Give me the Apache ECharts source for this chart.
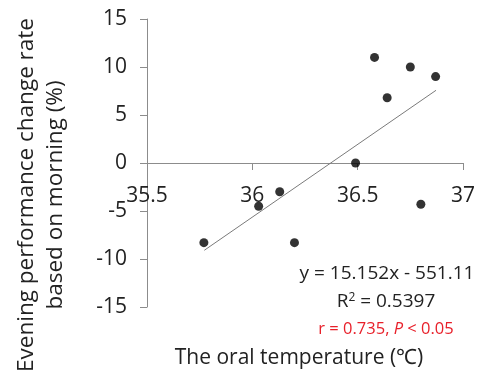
<!DOCTYPE html>
<html><head><meta charset="utf-8">
<script src="https://cdn.jsdelivr.net/npm/echarts@6/dist/echarts.min.js"></script>
<style>html,body{margin:0;padding:0;background:#fff}#c{width:480px;height:379px}</style>
</head><body><div id="c"></div>
<script>
const tempX = [36.58, 36.75, 36.87, 36.64, 36.49, 35.77, 36.03, 36.13, 36.20, 36.80];
const changeY = [11.0, 10.0, 9.0, 6.8, 0.0, -8.3, -4.5, -3.0, -8.3, -4.3];
const xTicks = [35.5, 36, 36.5, 37];
const yTicks = [-15, -10, -5, 0, 5, 10, 15];
const slope = 15.152, intercept = -551.11;
const trendRange = [35.772, 36.872];

const font = '"Open Sans", "Noto Sans", sans-serif';
const gridTop = 19, gridBottom = 72, H = 379;
const plotH = H - gridTop - gridBottom;
const yMin = yTicks[0], yMax = yTicks[yTicks.length - 1];
const zeroOffset = -plotH * (0 - yMin) / (yMax - yMin);
const chart = echarts.init(document.getElementById('c'));
chart.setOption({
  animation: false,
  grid: {left: 147, right: 17, top: gridTop, bottom: gridBottom},
  xAxis: {
    type: 'value', min: xTicks[0], max: xTicks[xTicks.length - 1], interval: 0.5,
    offset: zeroOffset,
    axisLine: {onZero: false, lineStyle: {color: '#8c8c8c', width: 1}},
    axisTick: {show: true, length: 7, inside: false, lineStyle: {color: '#8c8c8c'}},
    axisLabel: {fontSize: 21, color: '#222', fontFamily: font, margin: 23, showMinLabel: true, showMaxLabel: true},
    splitLine: {show: false}
  },
  yAxis: {
    type: 'value', min: yMin, max: yMax, interval: 5,
    axisLine: {show: true, onZero: false, lineStyle: {color: '#8c8c8c', width: 1}},
    axisTick: {show: true, length: 7, lineStyle: {color: '#8c8c8c'}},
    axisLabel: {fontSize: 21, color: '#222', fontFamily: font, margin: 20},
    splitLine: {show: false}
  },
  series: [
    {type: 'line', data: trendRange.map(x => [x, slope * x + intercept]), symbol: 'none',
     lineStyle: {color: '#7a7a7a', width: 1}, z: 1},
    {type: 'scatter', data: tempX.map((x, i) => [x, changeY[i]]), symbolSize: 9,
     itemStyle: {color: '#000'}, z: 2}
  ],
  graphic: [
    {type: 'text', x: 41, y: 195, rotation: Math.PI / 2,
     style: {text: 'Evening performance change rate\nbased on morning (%)', fontSize: 22.5, lineHeight: 29,
       fontFamily: font, fill: '#222', textAlign: 'center', textVerticalAlign: 'middle'}},
    {type: 'text', x: 299, y: 358,
     style: {text: 'The oral temperature (℃)', fontSize: 21, fontFamily: font, fill: '#222',
       textAlign: 'center', textVerticalAlign: 'middle'}},
    {type: 'text', x: 387, y: 274,
     style: {text: 'y = 15.152x - 551.11', fontSize: 19, fontFamily: font, fill: '#222',
       textAlign: 'center', textVerticalAlign: 'middle'}},
    {type: 'text', x: 386, y: 302,
     style: {text: '{a|R}{s|2}{a| = 0.5397}', fontFamily: font, textAlign: 'center', textVerticalAlign: 'middle',
       rich: {a: {fontSize: 19, fill: '#222', fontFamily: font}, s: {fontSize: 12, fill: '#222', fontFamily: font, verticalAlign: 'top', padding: [0, 0, 9, 0]}}}},
    {type: 'text', x: 386, y: 329,
     style: {text: '{a|r = 0.735, }{i|P}{a| < 0.05}', fontFamily: font, textAlign: 'center', textVerticalAlign: 'middle',
       rich: {a: {fontSize: 16.5, fill: '#e8202a', fontFamily: font}, i: {fontSize: 16.5, fill: '#e8202a', fontStyle: 'italic', fontFamily: font}}}}
  ]
});
</script></body></html>
